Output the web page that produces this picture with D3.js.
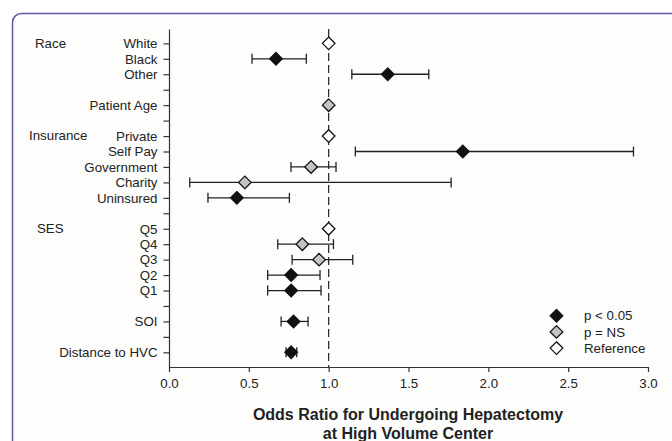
<!DOCTYPE html>
<html>
<head>
<meta charset="utf-8">
<script src="https://cdn.jsdelivr.net/npm/d3@7"></script>
<style>
  body { margin: 0; background: #fff; }
  svg { font-family: "Liberation Sans", Arial, sans-serif; }
</style>
</head>
<body>
<svg width="672" height="441"></svg>
<script>
// rows, top to bottom (blank strings are spacer rows)
const rowLabels = ["White", "Black", "Other", "", "Patient Age", "", "Private", "Self Pay",
  "Government", "Charity", "Uninsured", "", "Q5", "Q4", "Q3", "Q2", "Q1", "", "SOI", "", "Distance to HVC"];
const oddsRatio = [1.0, 0.67, 1.37, null, 1.0, null, 1.0, 1.84, 0.89, 0.475, 0.425, null,
  1.0, 0.835, 0.94, 0.765, 0.765, null, 0.78, null, 0.765];
const ciLow = [null, 0.52, 1.145, null, null, null, null, 1.167, 0.764, 0.13, 0.244, null,
  null, 0.681, 0.771, 0.618, 0.618, null, 0.702, null, 0.733];
const ciHigh = [null, 0.86, 1.627, null, null, null, null, 2.909, 1.046, 1.767, 0.754, null,
  null, 1.03, 1.151, 0.946, 0.952, null, 0.871, null, 0.8];
const signif = ["ref", "sig", "sig", null, "ns", null, "ref", "sig", "ns", "ns", "sig", null,
  "ref", "ns", "ns", "sig", "sig", null, "sig", null, "sig"];
const groupNames = ["Race", "Insurance", "SES"];
const groupRows = [0, 6, 12];
const xTicks = [0, 0.5, 1, 1.5, 2, 2.5, 3];
const legendKeys = ["sig", "ns", "ref"];
const legendText = ["p < 0.05", "p = NS", "Reference"];

const fills = { sig: "#111", ns: "#c4c4c4", ref: "#fff" };
const svg = d3.select("svg");

// outer frame
svg.append("rect").attr("x", 12.5).attr("y", 13.5).attr("width", 680).attr("height", 460)
  .attr("rx", 9).attr("fill", "#fdfdfc").attr("stroke", "#5b5ba3").attr("stroke-width", 1.5);

const x = d3.scaleLinear().domain([0, 3]).range([169, 648]);
const y = d3.scaleLinear().domain([-0.93, 20.95]).range([29, 367]);

const rows = rowLabels.map((l, i) => ({ i, label: l, or: oddsRatio[i], lo: ciLow[i], hi: ciHigh[i], s: signif[i] }));

// y axis
const yAxis = d3.axisLeft(y).tickValues(d3.range(rowLabels.length))
  .tickFormat(i => rowLabels[i]).tickSizeInner(5.5).tickSizeOuter(0).tickPadding(6);
const gy = svg.append("g").attr("transform", "translate(169,0)").call(yAxis);
gy.selectAll("text").attr("font-size", 13.3).attr("fill", "#222").attr("font-family", null);

// x axis
const xAxis = d3.axisBottom(x).tickValues(xTicks).tickFormat(d3.format(".1f"))
  .tickSizeInner(5).tickSizeOuter(0).tickPadding(7);
const gx = svg.append("g").attr("transform", "translate(0,367)").call(xAxis);
gx.selectAll("text").attr("font-size", 13.3).attr("fill", "#222").attr("font-family", null);

svg.selectAll(".domain, .tick line").attr("stroke", "#333").attr("stroke-width", 1.2);

// reference line at OR = 1
svg.append("line").attr("x1", x(1)).attr("x2", x(1)).attr("y1", 29).attr("y2", 367)
  .attr("stroke", "#222").attr("stroke-width", 1.2).attr("stroke-dasharray", "8,4");

// group labels
const groupX = [35, 29, 37];
svg.selectAll(".grp").data(groupNames).enter().append("text")
  .attr("x", (d, i) => groupX[i]).attr("y", (d, i) => y(groupRows[i]))
  .attr("dy", "0.32em").attr("font-size", 13.3).attr("fill", "#222").text(d => d);

// error bars
const withCI = rows.filter(d => d.lo != null);
const eb = svg.append("g").attr("stroke", "#222").attr("stroke-width", 1.3);
eb.selectAll(".ci").data(withCI).enter().append("line")
  .attr("x1", d => x(d.lo)).attr("x2", d => x(d.hi)).attr("y1", d => y(d.i)).attr("y2", d => y(d.i));
eb.selectAll(".capl").data(withCI).enter().append("line")
  .attr("x1", d => x(d.lo)).attr("x2", d => x(d.lo)).attr("y1", d => y(d.i) - 5).attr("y2", d => y(d.i) + 5);
eb.selectAll(".caph").data(withCI).enter().append("line")
  .attr("x1", d => x(d.hi)).attr("x2", d => x(d.hi)).attr("y1", d => y(d.i) - 5).attr("y2", d => y(d.i) + 5);

// diamonds
const diamond = "M0,-6.3L6.3,0L0,6.3L-6.3,0Z";
svg.selectAll(".pt").data(rows.filter(d => d.or != null)).enter().append("path")
  .attr("d", diamond).attr("transform", d => `translate(${x(d.or)},${y(d.i)})`)
  .attr("fill", d => fills[d.s]).attr("stroke", "#111").attr("stroke-width", 1.3);

// legend
const lg = svg.append("g");
legendKeys.forEach((k, i) => {
  lg.append("path").attr("d", diamond).attr("transform", `translate(556.5,${315.7 + i * 16.2})`)
    .attr("fill", fills[k]).attr("stroke", "#111").attr("stroke-width", 1.3);
  lg.append("text").attr("x", 584).attr("y", 315.7 + i * 16.2).attr("dy", "0.35em")
    .attr("font-size", 13.3).attr("fill", "#222").text(legendText[i]);
});

// axis title
svg.append("text").attr("x", 408).attr("y", 414).attr("dy", "0.35em").attr("text-anchor", "middle")
  .attr("font-size", 16).attr("font-weight", "bold").attr("fill", "#222")
  .text("Odds Ratio for Undergoing Hepatectomy");
svg.append("text").attr("x", 408).attr("y", 433).attr("dy", "0.35em").attr("text-anchor", "middle")
  .attr("font-size", 16).attr("font-weight", "bold").attr("fill", "#222")
  .text("at High Volume Center");
</script>
</body>
</html>
